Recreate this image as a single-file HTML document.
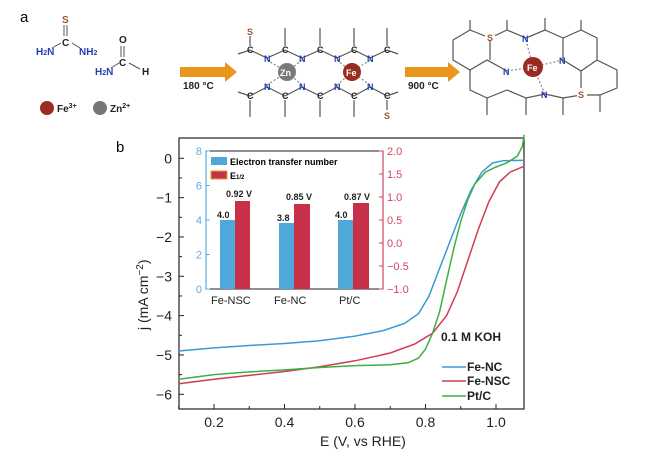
<!DOCTYPE html>
<html><head><meta charset="utf-8"><style>
html,body{margin:0;padding:0;background:#fff;}
svg{display:block;font-family:"Liberation Sans",Arial,sans-serif;}
</style></head><body>
<svg width="650" height="462" viewBox="0 0 650 462" xmlns="http://www.w3.org/2000/svg">
<!-- Panel a -->
<text x="20" y="22" font-size="15">a</text>
<g font-size="10" font-weight="bold" fill="#222">
 <text x="62" y="23" fill="#a0522d">S</text>
 <line x1="64" y1="25" x2="64" y2="36" stroke="#555" stroke-width="1"/><line x1="67" y1="25" x2="67" y2="36" stroke="#555" stroke-width="1"/>
 <text x="62" y="46">C</text>
 <text x="36" y="55" fill="#2040b0">H<tspan font-size="7">2</tspan>N</text>
 <text x="79" y="55" fill="#2040b0">NH<tspan font-size="7">2</tspan></text>
 <line x1="52" y1="48" x2="61" y2="43" stroke="#555"/><line x1="72" y1="43" x2="80" y2="48" stroke="#555"/>
 <text x="119" y="43">O</text>
 <line x1="121" y1="46" x2="121" y2="57" stroke="#555"/><line x1="124" y1="46" x2="124" y2="57" stroke="#555"/>
 <text x="119" y="66">C</text>
 <text x="95" y="75" fill="#2040b0">H<tspan font-size="7">2</tspan>N</text>
 <text x="142" y="75">H</text>
 <line x1="111" y1="68" x2="119" y2="63" stroke="#555"/><line x1="129" y1="63" x2="140" y2="69" stroke="#555"/>
 <circle cx="47" cy="108" r="7" fill="#9b2a22"/><text x="57" y="112">Fe<tspan font-size="7" dy="-4">3+</tspan></text>
 <circle cx="100" cy="108" r="7" fill="#777"/><text x="110" y="112">Zn<tspan font-size="7" dy="-4">2+</tspan></text>
 <text x="183" y="89">180 °C</text>
 <text x="408" y="89">900 °C</text>
</g>
<polygon points="180,67 225,67 225,62 237,72 225,82 225,77 180,77" fill="#e8961e"/>
<polygon points="405,67 448,67 448,62 460,72 448,82 448,77 405,77" fill="#e8961e"/>
<!-- middle structure -->
<g stroke="#555" stroke-width="1.2" fill="none">
 <polyline points="238,54 250,50 267,58 285,50 302,58 320,50 337,58 354,50 370,58 387,50 398,54"/>
 <polyline points="238,92 250,96 267,87 285,96 302,87 320,96 337,87 354,96 370,87 387,96 398,92"/>
 <line x1="285" y1="28" x2="285" y2="46"/><line x1="320" y1="28" x2="320" y2="46"/><line x1="354" y1="28" x2="354" y2="46"/><line x1="387" y1="28" x2="387" y2="46"/>
 <line x1="250" y1="100" x2="250" y2="117"/><line x1="285" y1="100" x2="285" y2="117"/><line x1="320" y1="100" x2="320" y2="117"/><line x1="354" y1="100" x2="354" y2="117"/>
 <line x1="250" y1="36" x2="250" y2="46"/><line x1="387" y1="100" x2="387" y2="110"/>
 <g stroke-dasharray="2,2" stroke="#888"><line x1="267" y1="60" x2="287" y2="72"/><line x1="302" y1="60" x2="287" y2="72"/><line x1="267" y1="85" x2="287" y2="72"/><line x1="302" y1="85" x2="287" y2="72"/>
 <line x1="337" y1="60" x2="352" y2="72"/><line x1="370" y1="60" x2="352" y2="72"/><line x1="337" y1="85" x2="352" y2="72"/><line x1="370" y1="85" x2="352" y2="72"/></g>
</g>
<g font-size="9" font-weight="bold">
 <g fill="#222"><text x="247" y="53">C</text><text x="282" y="53">C</text><text x="317" y="53">C</text><text x="351" y="53">C</text><text x="384" y="53">C</text>
 <text x="247" y="99">C</text><text x="282" y="99">C</text><text x="317" y="99">C</text><text x="351" y="99">C</text><text x="384" y="99">C</text></g>
 <g fill="#2040b0"><text x="264" y="62">N</text><text x="299" y="62">N</text><text x="334" y="62">N</text><text x="367" y="62">N</text>
 <text x="264" y="90">N</text><text x="299" y="90">N</text><text x="334" y="90">N</text><text x="367" y="90">N</text></g>
 <g fill="#a0522d"><text x="247" y="35">S</text><text x="384" y="119">S</text></g>
</g>
<circle cx="287" cy="72" r="9" fill="#7a7a7a"/><text x="280" y="76" font-size="9" fill="#fff" font-weight="bold">Zn</text>
<circle cx="352" cy="72" r="9" fill="#9b2a22"/><text x="346" y="76" font-size="9" fill="#fff" font-weight="bold">Fe</text>
<!-- right structure -->
<g stroke="#555" stroke-width="1.2" fill="none">
 <polyline points="453,40 470,30 490,38 507,30 526,38 545,30 563,38 581,30 597,38 597,60 617,70 617,88 600,95 581,95"/>
 <polyline points="453,40 453,60 470,70 487,60 507,71"/>
 <polyline points="470,70 470,90 487,98 507,90 526,98 545,94 563,98 581,95"/>
 <polyline points="490,38 490,60"/><polyline points="563,38 563,60 581,71 597,60"/><polyline points="581,71 581,95"/><polyline points="526,38 545,30"/>
 <polyline points="600,95 600,112"/><line x1="470" y1="20" x2="470" y2="30"/><line x1="507" y1="20" x2="507" y2="30"/><line x1="545" y1="18" x2="545" y2="30"/><line x1="581" y1="20" x2="581" y2="30"/>
 <line x1="487" y1="98" x2="487" y2="115"/><line x1="526" y1="98" x2="526" y2="115"/><line x1="563" y1="98" x2="563" y2="115"/>
 <g stroke-dasharray="2,2" stroke="#888"><line x1="526" y1="40" x2="533" y2="67"/><line x1="563" y1="60" x2="533" y2="67"/><line x1="507" y1="71" x2="533" y2="67"/><line x1="545" y1="94" x2="533" y2="67"/></g>
</g>
<g font-size="9" font-weight="bold">
 <rect x="485" y="31" width="10" height="10" fill="#fff"/><text x="487" y="41" fill="#a0522d">S</text>
 <rect x="577" y="88" width="10" height="10" fill="#fff"/><text x="578" y="98" fill="#a0522d">S</text>
 <g fill="#2040b0"><text x="522" y="42">N</text><text x="559" y="64">N</text><text x="503" y="75">N</text><text x="541" y="98">N</text></g>
</g>
<circle cx="533" cy="67" r="10" fill="#9b2a22"/><text x="527" y="71" font-size="9" fill="#fff" font-weight="bold">Fe</text>

<!-- Panel b -->
<text x="116" y="152" font-size="15">b</text>
<rect x="179" y="138" width="345" height="271" fill="none" stroke="#222" stroke-width="1.2"/>
<g id="axes" stroke="#222" stroke-width="1"></g>
<g font-size="14" fill="#222" id="labels"></g>
<text x="320" y="446" font-size="14" fill="#222">E (V, vs RHE)</text>
<text transform="translate(148,330) rotate(-90)" font-size="14" fill="#222">j (mA cm<tspan font-size="10" dy="-5">−2</tspan><tspan dy="5">)</tspan></text>
<g id="curves" fill="none" stroke-width="1.5"></g>
<text x="441" y="341" font-size="12" font-weight="bold" fill="#222">0.1 M KOH</text>
<g font-size="12" font-weight="bold" fill="#222">
 <line x1="442" y1="367" x2="466" y2="367" stroke="#3a9ad6" stroke-width="1.5"/><text x="467" y="371">Fe-NC</text>
 <line x1="442" y1="381" x2="466" y2="381" stroke="#d33a55" stroke-width="1.5"/><text x="467" y="385">Fe-NSC</text>
 <line x1="442" y1="396" x2="466" y2="396" stroke="#3cb043" stroke-width="1.5"/><text x="467" y="400">Pt/C</text>
</g>
<!-- inset -->
<rect x="206" y="151" width="177" height="138" fill="#fff" stroke="#222" stroke-width="1"/>
<line x1="206" y1="151" x2="206" y2="289" stroke="#5aaee0" stroke-width="1.2"/>
<line x1="383" y1="151" x2="383" y2="289" stroke="#d04860" stroke-width="1.2"/>
<g id="inset" font-size="11"></g>
<rect x="211" y="157" width="16" height="8" fill="#4fa8d8"/><text x="230" y="165" font-size="9" font-weight="bold">Electron transfer number</text>
<rect x="211" y="171" width="16" height="8" fill="#c8304a" stroke="#e0a030" stroke-width="1"/><text x="230" y="179" font-size="9" font-weight="bold">E<tspan font-size="6">1/2</tspan></text>
<g fill="#4fa8d8"><rect x="220" y="220" width="15" height="69"/><rect x="279" y="223" width="15" height="66"/><rect x="338" y="220" width="15" height="69"/></g>
<g fill="#c8304a"><rect x="235" y="201" width="15" height="88"/><rect x="294" y="204" width="16" height="85"/><rect x="353" y="203" width="16" height="86"/></g>
<g font-size="9" font-weight="bold" fill="#222">
 <text x="217" y="218">4.0</text><text x="226" y="197">0.92 V</text>
 <text x="277" y="221">3.8</text><text x="286" y="200">0.85 V</text>
 <text x="335" y="218">4.0</text><text x="344" y="200">0.87 V</text>
</g>
<g font-size="11" fill="#222"><text x="211" y="304">Fe-NSC</text><text x="274" y="304">Fe-NC</text><text x="339" y="304">Pt/C</text></g>
</svg>
<script>
var NS="http://www.w3.org/2000/svg";
function el(p,t,a,txt){var e=document.createElementNS(NS,t);for(var k in a)e.setAttribute(k,a[k]);if(txt!=null)e.textContent=txt;p.appendChild(e);return e;}
var X=function(v){return 214+(v-0.2)*352.5;},Y=function(v){return 158.3-v*39.33;};
var ax=document.getElementById('axes'),lb=document.getElementById('labels');
for(var j=0;j>=-6;j--){var y=Y(j);el(ax,'line',{x1:179,y1:y,x2:184,y2:y});el(lb,'text',{x:172,y:y+5,'text-anchor':'end'},j==0?'0':'−'+(-j));
 if(j>-6){el(ax,'line',{x1:179,y1:Y(j-0.5),x2:182,y2:Y(j-0.5)});}}
for(var i=1;i<=10;i++){var v=i/10,x=X(v);if(x>524)break;var maj=(i%2==0);el(ax,'line',{x1:x,y1:409,x2:x,y2:maj?404:406});if(maj)el(lb,'text',{x:x,y:427,'text-anchor':'middle'},v.toFixed(1));}
var data={
'#3a9ad6':[[0.1,-4.9],[0.2,-4.82],[0.3,-4.76],[0.4,-4.71],[0.5,-4.64],[0.6,-4.52],[0.68,-4.38],[0.74,-4.2],[0.78,-3.95],[0.81,-3.5],[0.84,-2.8],[0.87,-2.1],[0.9,-1.4],[0.93,-0.8],[0.96,-0.35],[0.99,-0.12],[1.02,-0.06],[1.08,-0.05]],
'#d33a55':[[0.1,-5.73],[0.2,-5.62],[0.3,-5.52],[0.4,-5.42],[0.5,-5.3],[0.6,-5.15],[0.7,-4.95],[0.77,-4.72],[0.82,-4.45],[0.86,-4.0],[0.89,-3.4],[0.92,-2.6],[0.95,-1.8],[0.98,-1.1],[1.01,-0.6],[1.04,-0.35],[1.08,-0.2]],
'#3cb043':[[0.1,-5.62],[0.2,-5.5],[0.3,-5.43],[0.4,-5.38],[0.5,-5.32],[0.6,-5.27],[0.7,-5.25],[0.75,-5.2],[0.78,-5.08],[0.8,-4.85],[0.82,-4.45],[0.84,-3.9],[0.86,-3.1],[0.88,-2.3],[0.9,-1.6],[0.92,-1.05],[0.94,-0.65],[0.97,-0.35],[1.0,-0.22],[1.03,-0.12],[1.06,0.05],[1.075,0.3],[1.08,0.6]]};
var cv=document.getElementById('curves');
for(var c in data){el(cv,'polyline',{stroke:c,points:data[c].map(function(p){return X(p[0]).toFixed(1)+','+Y(p[1]).toFixed(1)}).join(' ')});}
var ins=document.getElementById('inset');
for(var k=0;k<=8;k+=2){var y=289-k/8*138;el(ins,'line',{x1:206,y1:y,x2:210,y2:y,stroke:'#5aaee0'});el(ins,'text',{x:202,y:y+4,'text-anchor':'end',fill:'#5aaee0'},k);}
for(var k=0;k<=6;k++){var v=-1+k*0.5,y=289-k/6*138;el(ins,'line',{x1:379,y1:y,x2:383,y2:y,stroke:'#d04860'});el(ins,'text',{x:387,y:y+4,fill:'#d04860'},(v<0?'−':'')+Math.abs(v).toFixed(1));}
</script>
</body></html>
